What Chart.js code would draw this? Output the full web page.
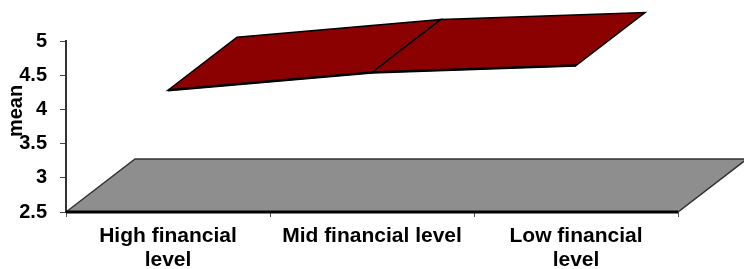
<!DOCTYPE html>
<html lang="en">
<head>
<meta charset="UTF-8">
<title>mean by financial level</title>
<script src="https://cdn.jsdelivr.net/npm/chart.js"></script>
<style>
  body { margin: 0; background: #fff; }
</style>
</head>
<body>
<canvas id="myChart" width="744" height="269"></canvas>
<script>
  // groups and their mean score
  let categories = [['High financial', 'level'], 'Mid financial level', ['Low financial', 'level']];
  let meanValues = [4.28, 4.54, 4.64];
  let yMin = 2.5;
  let yMax = 5;
  let yStep = 0.5;

  // depth of the fake 3d look, in pixels
  let depthX = 69;
  let depthY = -53;

  let fontFamily = '"Liberation Sans", Arial, sans-serif';

  let box3d = {
    id: 'box3d',
    beforeDatasetsDraw(chart) {
      let ctx = chart.ctx;
      let xs = chart.scales.x;
      let ys = chart.scales.y;
      let floorY = ys.getPixelForValue(yMin);
      let left = xs.left, right = xs.right;
      ctx.save();

      // floor
      ctx.beginPath();
      ctx.moveTo(left, floorY);
      ctx.lineTo(left + depthX, floorY + depthY);
      ctx.lineTo(right + depthX, floorY + depthY);
      ctx.lineTo(right, floorY);
      ctx.closePath();
      ctx.fillStyle = '#8e8e8e';
      ctx.fill();
      ctx.strokeStyle = '#333';
      ctx.lineWidth = 1.5;
      ctx.stroke();

      ctx.beginPath();
      ctx.moveTo(left, floorY);
      ctx.lineTo(right, floorY);
      ctx.strokeStyle = '#000';
      ctx.lineWidth = 3;
      ctx.stroke();

      // ribbon for the means
      let pts = chart.getDatasetMeta(0).data;
      for (let i = 0; i < pts.length - 1; i++) {
        let a = pts[i], b = pts[i + 1];
        ctx.beginPath();
        ctx.moveTo(a.x, a.y);
        ctx.lineTo(b.x, b.y);
        ctx.lineTo(b.x + depthX, b.y + depthY);
        ctx.lineTo(a.x + depthX, a.y + depthY);
        ctx.closePath();
        ctx.fillStyle = '#8b0000';
        ctx.fill();
        ctx.strokeStyle = '#000';
        ctx.lineWidth = 1.5;
        ctx.stroke();
      }
      ctx.beginPath();
      pts.forEach((p, i) => i ? ctx.lineTo(p.x, p.y) : ctx.moveTo(p.x, p.y));
      ctx.lineWidth = 2.5;
      ctx.stroke();

      ctx.restore();
    },
    afterDraw(chart) {
      // y axis title sits a bit above the middle, so draw it by hand
      let ctx = chart.ctx;
      ctx.save();
      ctx.translate(22, 111);
      ctx.rotate(-Math.PI / 2);
      ctx.font = 'bold 20px ' + fontFamily;
      ctx.fillStyle = '#000';
      ctx.textAlign = 'center';
      ctx.textBaseline = 'alphabetic';
      ctx.fillText('mean', 0, 0);
      ctx.restore();
    }
  };

  let ctx = document.getElementById('myChart').getContext('2d');
  let myChart = new Chart(ctx, {
    type: 'line',
    data: {
      labels: categories,
      datasets: [{
        label: 'mean',
        data: meanValues,
        showLine: false,
        pointRadius: 0,
        borderWidth: 0
      }]
    },
    options: {
      responsive: false,
      animation: false,
      devicePixelRatio: 1,
      layout: { padding: { top: 41, right: 66, left: 0, bottom: 0 } },
      plugins: {
        legend: { display: false },
        tooltip: { enabled: false }
      },
      scales: {
        x: {
          offset: true,
          afterFit(scale) { scale.height = 57; },
          grid: {
            offset: true,
            drawOnChartArea: false,
            drawTicks: true,
            tickLength: 5,
            color: '#555'
          },
          border: { display: false },
          ticks: {
            color: '#000',
            maxRotation: 0,
            autoSkip: false,
            padding: 7,
            font: { family: fontFamily, size: 21, weight: 'bold', lineHeight: 1.15 }
          }
        },
        y: {
          min: yMin,
          max: yMax,
          afterFit(scale) { scale.width = 66; },
          grid: {
            drawOnChartArea: false,
            drawTicks: true,
            tickLength: 6,
            color: '#444'
          },
          border: { display: true, color: '#333', width: 2 },
          ticks: {
            stepSize: yStep,
            color: '#000',
            padding: 13,
            callback: v => String(v),
            font: { family: fontFamily, size: 20, weight: 'bold' }
          }
        }
      }
    },
    plugins: [box3d]
  });
</script>
</body>
</html>
